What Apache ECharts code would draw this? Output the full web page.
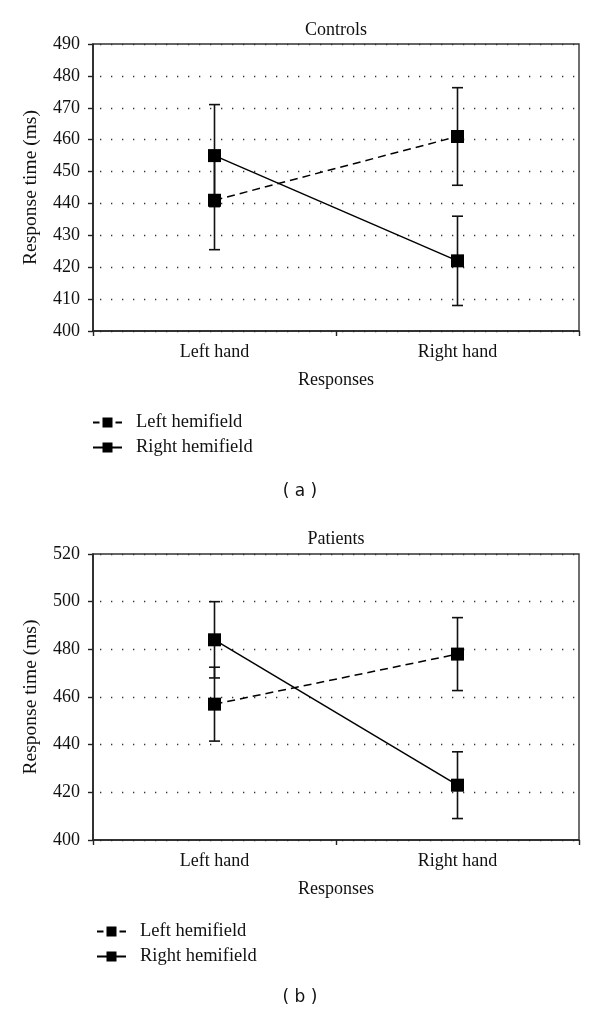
<!DOCTYPE html>
<html>
<head>
<meta charset="utf-8">
<script src="https://cdn.jsdelivr.net/npm/echarts@6/dist/echarts.min.js"></script>
<style>
html,body{margin:0;padding:0;background:#fff;}
#chart{width:600px;height:1018px;}
</style>
</head>
<body>
<div id="chart"></div>
<script>
// ---- data ----
const categories = ['Left hand', 'Right hand'];
const seriesNames = ['Left hemifield', 'Right hemifield'];

const controlsLeftHemi = [441, 461];
const controlsLeftHemiErr = [15.5, 15.3];
const controlsRightHemi = [455, 422];
const controlsRightHemiErr = [16, 14];

const patientsLeftHemi = [457, 478];
const patientsLeftHemiErr = [15.5, 15.3];
const patientsRightHemi = [484, 423];
const patientsRightHemiErr = [16, 14];

const controlsTicks = { min: 400, max: 490, interval: 10 };
const patientsTicks = { min: 400, max: 520, interval: 20 };

const panelTitles = ['Controls', 'Patients'];
const panelLabels = ['( a )', '( b )'];
const yName = 'Response time (ms)';
const xName = 'Responses';

// ---- chart ----
const FONT = 'Liberation Serif';
const FS = 18;

// legend glyphs: "-■-" (dashed) and "—■—" (solid)
const ICON_DASHED = 'path://M0,4.6h6.5v1.8h-6.5Z M9.5,0.5h10v10h-10Z M22.5,4.6h6.5v1.8h-6.5Z';
const ICON_SOLID = 'path://M0,4.6h29v1.8h-29Z M9.5,0.5h10v10h-10Z';

function errData(vals, errs) {
  return vals.map((v, i) => [i, v - errs[i], v + errs[i]]);
}

function errSeries(name, vals, errs, gi) {
  return {
    type: 'custom',
    name: name + ' SE',
    xAxisIndex: gi, yAxisIndex: gi,
    z: 1,
    silent: true,
    data: errData(vals, errs),
    renderItem: function (params, api) {
      const lo = api.coord([api.value(0), api.value(1)]);
      const hi = api.coord([api.value(0), api.value(2)]);
      const w = 5.5;
      const st = { stroke: '#111', lineWidth: 1.6 };
      return {
        type: 'group',
        children: [
          { type: 'line', shape: { x1: lo[0], y1: lo[1], x2: hi[0], y2: hi[1] }, style: st },
          { type: 'line', shape: { x1: lo[0] - w, y1: lo[1], x2: lo[0] + w, y2: lo[1] }, style: st },
          { type: 'line', shape: { x1: hi[0] - w, y1: hi[1], x2: hi[0] + w, y2: hi[1] }, style: st }
        ]
      };
    }
  };
}

function lineSeries(name, vals, gi, dashed) {
  return {
    type: 'line',
    name: name,
    xAxisIndex: gi, yAxisIndex: gi,
    z: 3,
    data: vals,
    symbol: 'rect',
    symbolSize: 13,
    itemStyle: { color: '#000' },
    lineStyle: { color: '#000', width: 1.5, type: dashed ? [8, 5] : 'solid' },
    emphasis: { disabled: true }
  };
}

function xAxis(gi) {
  return {
    type: 'category',
    gridIndex: gi,
    data: categories,
    boundaryGap: true,
    axisLine: { lineStyle: { color: '#222', width: 1.6 } },
    axisTick: { show: true, length: 5, lineStyle: { color: '#222', width: 1.4 } },
    axisLabel: { color: '#111', fontFamily: FONT, fontSize: FS, margin: 12 },
    name: xName,
    nameLocation: 'middle',
    nameGap: 40,
    nameTextStyle: { color: '#111', fontFamily: FONT, fontSize: FS }
  };
}

function yAxis(gi, t) {
  return {
    type: 'value',
    gridIndex: gi,
    min: t.min, max: t.max, interval: t.interval,
    axisLine: { show: true, lineStyle: { color: '#222', width: 1.6 } },
    axisTick: { show: true, length: 5, lineStyle: { color: '#222', width: 1.4 } },
    axisLabel: { color: '#111', fontFamily: FONT, fontSize: FS, margin: 13 },
    splitLine: { show: true, lineStyle: { color: '#333', width: 1.3, type: [1.3, 9.7], dashOffset: -7 } },
    name: yName,
    nameLocation: 'middle',
    nameGap: 52,
    nameTextStyle: { color: '#111', fontFamily: FONT, fontSize: 19.5 }
  };
}

function legend(top, left) {
  return {
    orient: 'vertical',
    left: left, top: top,
    itemWidth: 29, itemHeight: 11,
    itemGap: 6,
    data: [
      { name: seriesNames[0], icon: ICON_DASHED },
      { name: seriesNames[1], icon: ICON_SOLID }
    ],
    itemStyle: { color: '#000', borderWidth: 0 },
    selectedMode: false,
    textStyle: { color: '#111', fontFamily: FONT, fontSize: 18.5, padding: [0, 0, 0, 9] }
  };
}

function label(text, x, y, font, size) {
  return {
    type: 'text', x: x, y: y,
    style: { text: text, fill: '#111', font: size + 'px ' + font, align: 'center', verticalAlign: 'middle' }
  };
}

const option = {
  animation: false,
  backgroundColor: '#fff',
  grid: [
    { left: 93, right: 21, top: 44, height: 287, show: true, borderColor: '#333', borderWidth: 1.4, backgroundColor: 'transparent' },
    { left: 93, right: 21, top: 554, height: 286, show: true, borderColor: '#333', borderWidth: 1.4, backgroundColor: 'transparent' }
  ],
  xAxis: [xAxis(0), xAxis(1)],
  yAxis: [yAxis(0, controlsTicks), yAxis(1, patientsTicks)],
  legend: [legend(408, 88), legend(917, 92)],
  graphic: [
    label(panelTitles[0], 336, 30, '"Liberation Serif"', 18),
    label(panelTitles[1], 336, 539, '"Liberation Serif"', 18),
    label(panelLabels[0], 300, 492, '"DejaVu Sans"', 17),
    label(panelLabels[1], 300, 998, '"DejaVu Sans"', 17)
  ],
  series: [
    errSeries(seriesNames[0], controlsLeftHemi, controlsLeftHemiErr, 0),
    errSeries(seriesNames[1], controlsRightHemi, controlsRightHemiErr, 0),
    lineSeries(seriesNames[0], controlsLeftHemi, 0, true),
    lineSeries(seriesNames[1], controlsRightHemi, 0, false),
    errSeries(seriesNames[0], patientsLeftHemi, patientsLeftHemiErr, 1),
    errSeries(seriesNames[1], patientsRightHemi, patientsRightHemiErr, 1),
    lineSeries(seriesNames[0], patientsLeftHemi, 1, true),
    lineSeries(seriesNames[1], patientsRightHemi, 1, false)
  ]
};

const chart = echarts.init(document.getElementById('chart'), null, { renderer: 'canvas' });
chart.setOption(option);
</script>
</body>
</html>
